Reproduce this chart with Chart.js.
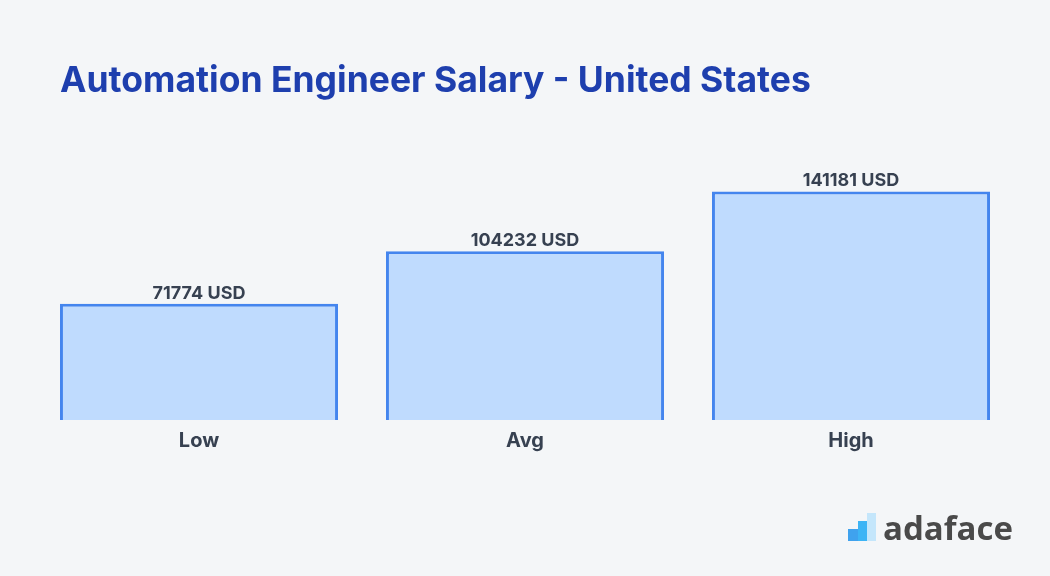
<!DOCTYPE html>
<html>
<head>
<meta charset="utf-8">
<script src="https://cdn.jsdelivr.net/npm/chart.js@4"></script>
<style>
  html, body { margin: 0; background: #f4f6f8; }
  #wrap { position: relative; width: 1050px; height: 576px; overflow: hidden; }
  #title {
    position: absolute; left: 60px; top: 58px; margin: 0;
    font: 700 35.5px Inter, sans-serif; color: #1e3fae; white-space: nowrap;
  }
  #logo { position: absolute; left: 848px; top: 508px; width: 170px; height: 40px; }
  #logo i { position: absolute; display: block; }
  #logo span {
    position: absolute; left: 35px; top: -3px;
    font: 700 33px "Open Sans", sans-serif; color: #4a4a4a;
  }
</style>
</head>
<body>
<div id="wrap">
  <canvas id="salaryChart" width="1050" height="576"></canvas>
  <h1 id="title">Automation Engineer Salary - United States</h1>
  <div id="logo">
    <i style="left:0;top:21px;width:10px;height:12px;background:#3fa2ee"></i>
    <i style="left:10px;top:13px;width:9px;height:20px;background:#3cb4f5"></i>
    <i style="left:19px;top:5px;width:9px;height:28px;background:#c4e6fb"></i>
    <span>adaface</span>
  </div>
</div>
<script>
const categories = ['Low', 'Avg', 'High'];
const salaries = [71774, 104232, 141181];
const unit = 'USD';

// writes "<value> USD" just above each bar
const valueLabels = {
  id: 'valueLabels',
  afterDatasetsDraw(chart) {
    const { ctx } = chart;
    const meta = chart.getDatasetMeta(0);
    ctx.save();
    ctx.font = '700 18px Inter, sans-serif';
    ctx.fillStyle = '#374151';
    ctx.textAlign = 'center';
    ctx.textBaseline = 'alphabetic';
    meta.data.forEach((bar, i) => {
      ctx.fillText(`${salaries[i]} ${unit}`, bar.x, bar.y - 5);
    });
    ctx.restore();
  }
};

new Chart(document.getElementById('salaryChart'), {
  type: 'bar',
  data: {
    labels: categories,
    datasets: [{
      data: salaries,
      backgroundColor: '#bfdbfe',
      borderColor: '#4485ee',
      borderWidth: 3,
      borderSkipped: 'bottom',
      barPercentage: 1,
      categoryPercentage: 0.853
    }]
  },
  options: {
    responsive: false,
    animation: false,
    layout: { padding: { left: 36, right: 36, top: 161, bottom: 122 } },
    plugins: { legend: { display: false }, tooltip: { enabled: false } },
    scales: {
      x: {
        grid: { display: false },
        border: { display: false },
        ticks: {
          color: '#374151',
          padding: 1,
          font: { family: 'Inter, sans-serif', size: 20, weight: '700' }
        }
      },
      y: { display: false, min: 0, max: 160000 }
    }
  },
  plugins: [valueLabels]
});
</script>
</body>
</html>
